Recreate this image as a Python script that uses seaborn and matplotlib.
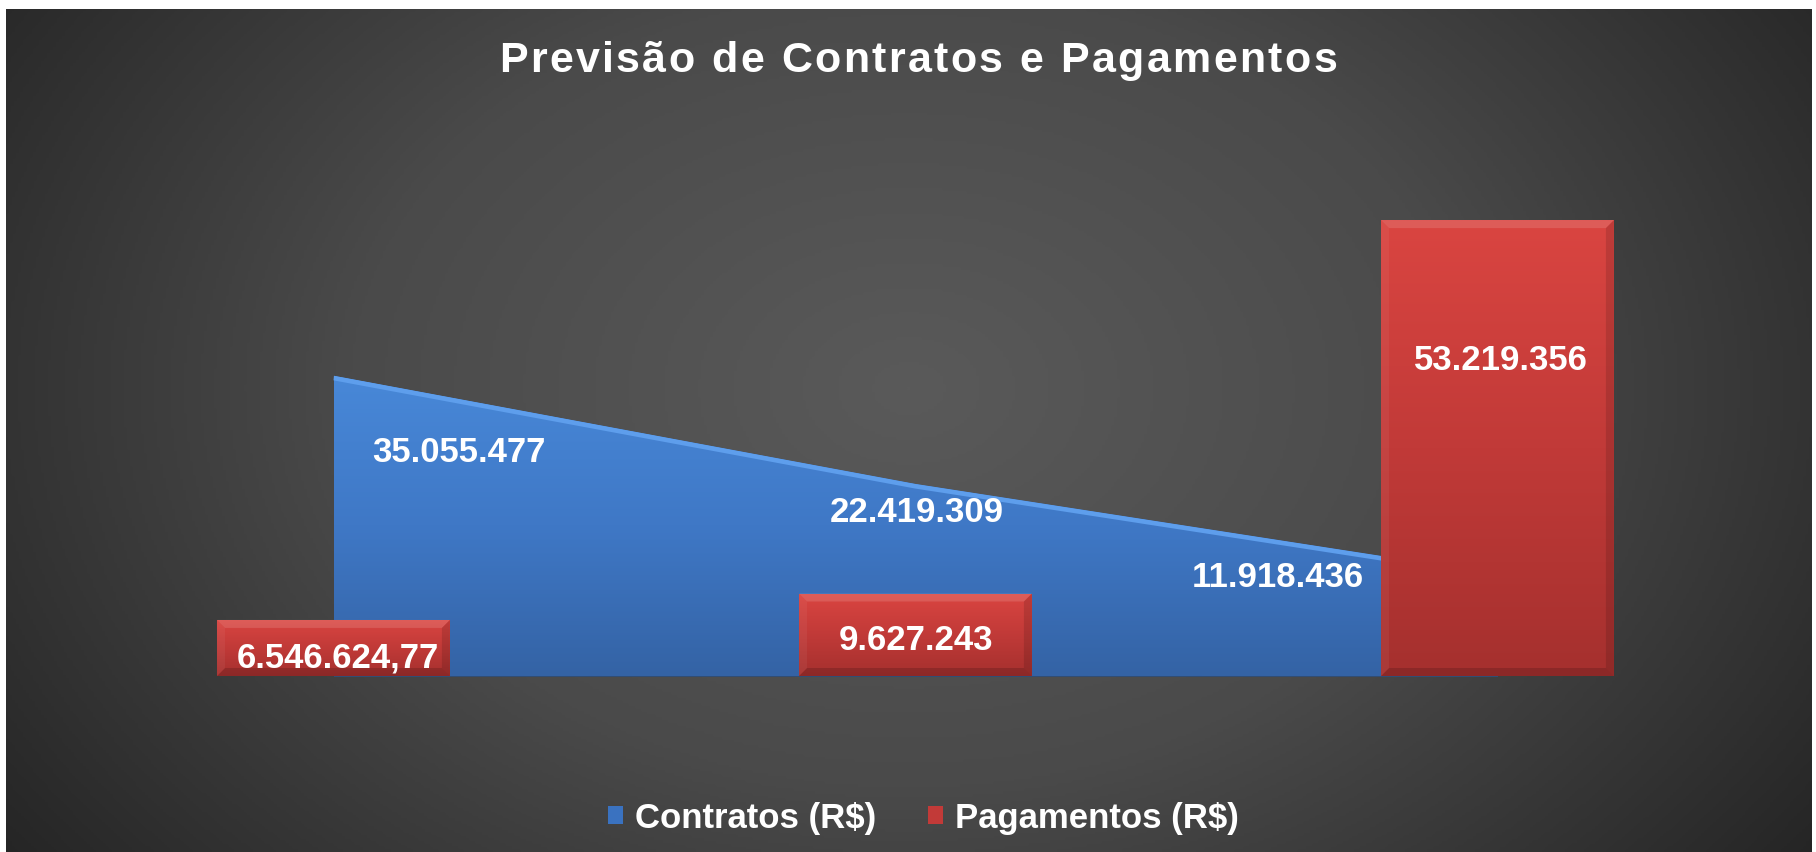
import numpy as np
import seaborn as sns
import matplotlib.pyplot as plt
from matplotlib.colors import LinearSegmentedColormap
from matplotlib.patches import Patch, Polygon

# dados
categorias = ["Período 1", "Período 2", "Período 3"]
contratos = [35055477, 22419309, 11918436]
pagamentos = [6546624.77, 9627243, 53219356]
rot_contratos = ["35.055.477", "22.419.309", "11.918.436"]
rot_pagamentos = ["6.546.624,77", "9.627.243", "53.219.356"]
titulo = "Previsão de Contratos e Pagamentos"
legenda = ["Contratos (R$)", "Pagamentos (R$)"]

# posição dos rótulos (x na escala das categorias, altura em R$)
pos_contratos = [(0.216, 26.25e6), (1.003, 19.15e6), (1.622, 11.65e6)]
pos_pagamentos = [(0.008, 2.2e6), (1.0, 4.25e6), (2.006, 36.95e6)]

sns.set_theme(style="white")
plt.rcParams['font.family'] = ['Liberation Sans', 'DejaVu Sans']

W, H = 1816, 853
fig = plt.figure(figsize=(W / 100, H / 100), dpi=100, facecolor='white')

# fundo com gradiente radial
bg = fig.add_axes([6 / W, 0, (1812 - 6) / W, (H - 10) / H])
yy, xx = np.mgrid[0:1:300j, 0:1:600j]
r = np.sqrt(((xx - 0.5) / 0.62) ** 2 + ((yy - 0.45) / 0.95) ** 2)
r = np.clip(r, 0, 1)
bg_cmap = LinearSegmentedColormap.from_list('bg', ['#5a5a5a', '#4a4a4a', '#252525'])
bg.imshow(r, cmap=bg_cmap, aspect='auto', extent=[0, 1, 0, 1], vmin=0, vmax=1)
bg.axis('off')

ax = fig.add_axes([42.5 / W, (H - 677) / H, 1746 / W, 514 / H])
ax.patch.set_alpha(0)

px_x = 1 / 582          # um pixel em unidades de categoria
px_y = 1 / 8.57e-6      # um pixel em R$

# sombra sob a linha de base
ax.fill_between([0, 2], [0, 0], [-3 * px_y, -3 * px_y], color='#262626', lw=0, zorder=1.5)

# área dos contratos
xs = np.arange(len(categorias))
area = ax.fill_between(xs, contratos, color='#3d74c2', zorder=2, lw=0)
blue_cmap = LinearSegmentedColormap.from_list('b', ['#3463a5', '#3f78c6', '#4888d8'])
grad = np.linspace(0, 1, 256).reshape(-1, 1)
im = ax.imshow(grad, extent=[0, 2, 0, max(contratos)], origin='lower', aspect='auto',
               cmap=blue_cmap, zorder=2.1)
im.set_clip_path(area.get_paths()[0], transform=ax.transData)
lin = sns.lineplot(x=xs, y=np.array(contratos) - 2.2 * px_y, color='#5e9eec', lw=3.5,
                   ax=ax, zorder=2.2)
for l in ax.lines:
    l.set_solid_capstyle('butt')
    l.set_clip_path(area.get_paths()[0], transform=ax.transData)

# barras dos pagamentos
sns.barplot(x=categorias, y=pagamentos, color='#c93c3a', width=0.4, ax=ax,
            zorder=3, linewidth=0, saturation=1)
red_cmap = LinearSegmentedColormap.from_list('r', ['#a5302e', '#c13a38', '#da4541'])
for p in list(ax.patches):
    x0, y0 = p.get_x(), p.get_y()
    w, h = p.get_width(), p.get_height()
    g = ax.imshow(grad, extent=[x0, x0 + w, y0, y0 + h], origin='lower', aspect='auto',
                  cmap=red_cmap, zorder=3.1)
    g.set_clip_path(p)
    bx, by = 8 * px_x, 8 * px_y
    x1, y1 = x0 + w, y0 + h
    ax.add_patch(Polygon([(x0, y1), (x1, y1), (x1 - bx, y1 - by), (x0 + bx, y1 - by)],
                         closed=True, fc='white', alpha=0.13, lw=0, zorder=3.2))
    ax.add_patch(Polygon([(x0, y0), (x0, y1), (x0 + bx, y1 - by), (x0 + bx, y0 + by)],
                         closed=True, fc='white', alpha=0.05, lw=0, zorder=3.2))
    ax.add_patch(Polygon([(x1, y0), (x1, y1), (x1 - bx, y1 - by), (x1 - bx, y0 + by)],
                         closed=True, fc='black', alpha=0.12, lw=0, zorder=3.2))
    ax.add_patch(Polygon([(x0, y0), (x1, y0), (x1 - bx, y0 + by), (x0 + bx, y0 + by)],
                         closed=True, fc='black', alpha=0.15, lw=0, zorder=3.2))

ax.set_xlim(-0.5, 2.5)
ax.set_ylim(0, 60e6)
ax.axis('off')

# rótulos de dados
for i, (dx, yv) in enumerate(pos_contratos):
    ax.text(dx, yv, rot_contratos[i], color='white', fontsize=25, fontweight='bold',
            ha='center', va='center', zorder=5)
for i, (dx, yv) in enumerate(pos_pagamentos):
    ax.text(dx, yv, rot_pagamentos[i], color='white', fontsize=25, fontweight='bold',
            ha='center', va='center', zorder=5)

# título com espaçamento entre letras
renderer = fig.canvas.get_renderer()
tkw = dict(color='white', fontsize=31, fontweight='bold')
adv = []
for ch in titulo:
    t = fig.text(0, 0, '|' + ch + '|', **tkw)
    w1 = t.get_window_extent(renderer).width
    t.set_text('||')
    w0 = t.get_window_extent(renderer).width
    t.remove()
    adv.append(w1 - w0)
esp = 2.4
total = sum(adv) + esp * (len(titulo) - 1)
xpos = 918 - total / 2
for ch, a in zip(titulo, adv):
    fig.text(xpos / W, (H - 72) / H, ch, ha='left', va='baseline', **tkw)
    xpos += a + esp

# legenda
handles = [Patch(facecolor='#3a72c0', edgecolor='none'),
           Patch(facecolor='#c23a38', edgecolor='none')]
leg = fig.legend(handles, legenda, loc='center', bbox_to_anchor=(0.5085, 34 / H),
                 ncol=2, frameon=False, handlelength=0.42, handleheight=0.42,
                 handletextpad=0.35, columnspacing=1.5,
                 prop={'size': 25, 'weight': 'bold'})
for t in leg.get_texts():
    t.set_color('white')

fig.savefig('out.png', dpi=100, facecolor='white')
